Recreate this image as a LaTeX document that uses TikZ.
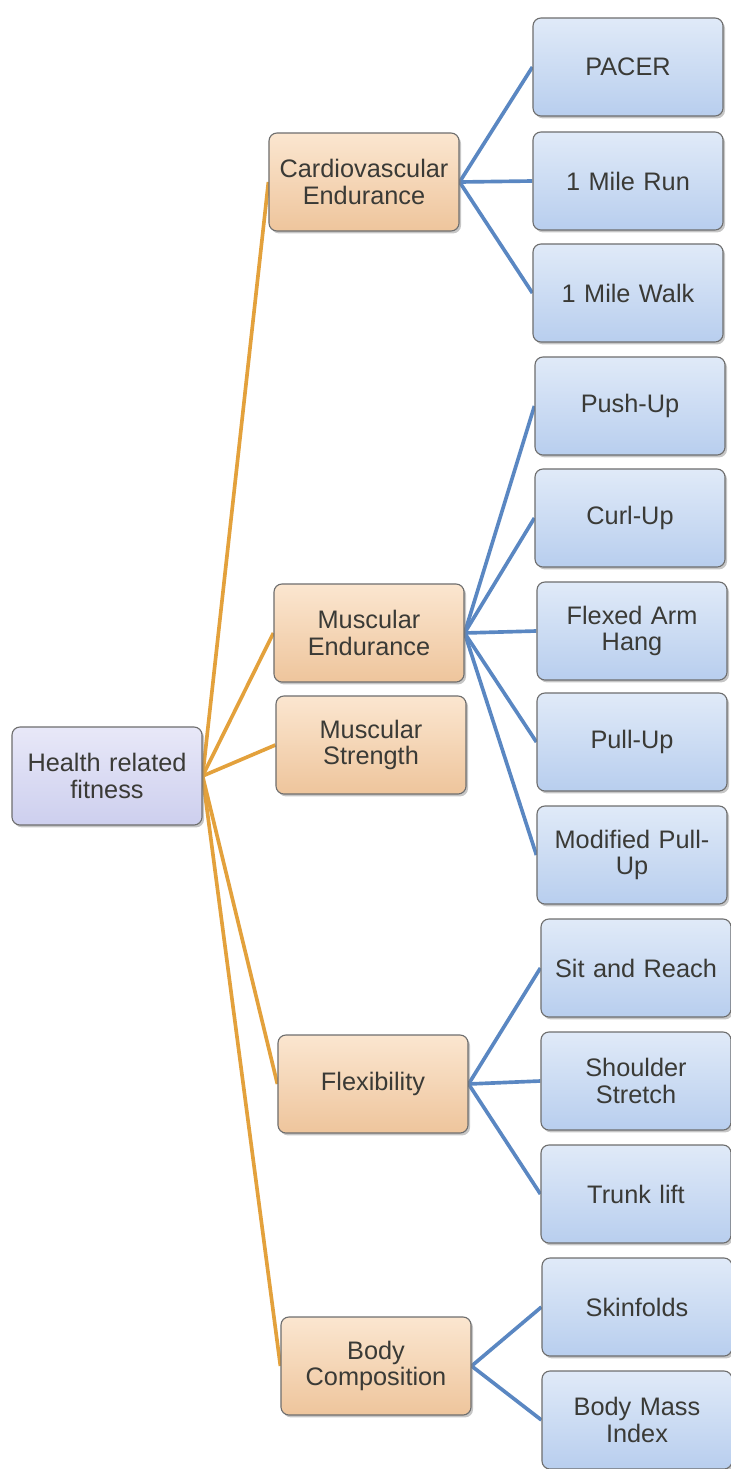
\documentclass[tikz,border=0pt]{standalone}
\usepackage{fontspec}
\setmainfont{Liberation Sans}
\usepackage{tikz}
\usetikzlibrary{shadows,backgrounds}
\definecolor{rootTop}{HTML}{E8E8F8}
\definecolor{rootBot}{HTML}{CDCFEE}
\definecolor{catTop}{HTML}{FBE6D0}
\definecolor{catBot}{HTML}{EEC59C}
\definecolor{leafTop}{HTML}{E0EAF8}
\definecolor{leafBot}{HTML}{B8CEEE}
\definecolor{orangeLine}{HTML}{E3A13C}
\definecolor{blueLine}{HTML}{5A87C2}
\definecolor{textGray}{HTML}{3A3A36}
\definecolor{edgeGray}{HTML}{6E6E6E}

\begin{document}
\begin{tikzpicture}[x=0.025cm, y=-0.025cm, every node/.style={font=\fontsize{18}{19}\selectfont, text=textGray}, box/.style={draw=edgeGray, line width=0.8pt, rounded corners=0.2cm, align=center, minimum width=4.75cm, minimum height=2.45cm, text width=4.5cm, drop shadow={shadow xshift=0.05cm, shadow yshift=-0.06cm, opacity=0.45}}, rootbox/.style={box, top color=rootTop, bottom color=rootBot}, catbox/.style={box, top color=catTop, bottom color=catBot}, leafbox/.style={box, top color=leafTop, bottom color=leafBot}, olink/.style={orangeLine, line width=2.6pt}, blink/.style={blueLine, line width=2.6pt}]
\useasboundingbox (0,0) rectangle (731,1469);
% root
\node[rootbox] (health) at (107,776) {Health related\\fitness};
% components
\node[catbox] (cardio) at (364,182) {Cardiovascular\\Endurance};
\node[catbox] (musend) at (369,633) {Muscular\\Endurance};
\node[catbox] (musstr) at (371,745) {Muscular\\Strength};
\node[catbox] (flex) at (373,1084) {Flexibility};
\node[catbox] (bodycomp) at (376,1366) {Body\\Composition};
% tests
\node[leafbox] (pacer) at (628,67) {PACER};
\node[leafbox] (mrun) at (628,181) {1 Mile Run};
\node[leafbox] (mwalk) at (628,293) {1 Mile Walk};
\node[leafbox] (pushup) at (630,406) {Push-Up};
\node[leafbox] (curlup) at (630,518) {Curl-Up};
\node[leafbox] (flexarm) at (632,631) {Flexed Arm\\Hang};
\node[leafbox] (pullup) at (632,742) {Pull-Up};
\node[leafbox] (modpull) at (632,855) {Modified Pull-\\Up};
\node[leafbox] (sitreach) at (636,968) {Sit and Reach};
\node[leafbox] (shoulder) at (636,1081) {Shoulder\\Stretch};
\node[leafbox] (trunk) at (636,1194) {Trunk lift};
\node[leafbox] (skin) at (637,1307) {Skinfolds};
\node[leafbox] (bmi) at (637,1420) {Body Mass\\Index};
% links
\begin{scope}[on background layer]
\draw[olink] (health.east)--(cardio.west);
\draw[olink] (health.east)--(musend.west);
\draw[olink] (health.east)--(musstr.west);
\draw[olink] (health.east)--(flex.west);
\draw[olink] (health.east)--(bodycomp.west);
\draw[blink] (cardio.east)--(pacer.west);
\draw[blink] (cardio.east)--(mrun.west);
\draw[blink] (cardio.east)--(mwalk.west);
\draw[blink] (musend.east)--(pushup.west);
\draw[blink] (musend.east)--(curlup.west);
\draw[blink] (musend.east)--(flexarm.west);
\draw[blink] (musend.east)--(pullup.west);
\draw[blink] (musend.east)--(modpull.west);
\draw[blink] (flex.east)--(sitreach.west);
\draw[blink] (flex.east)--(shoulder.west);
\draw[blink] (flex.east)--(trunk.west);
\draw[blink] (bodycomp.east)--(skin.west);
\draw[blink] (bodycomp.east)--(bmi.west);
\end{scope}
\end{tikzpicture}
\end{document}
